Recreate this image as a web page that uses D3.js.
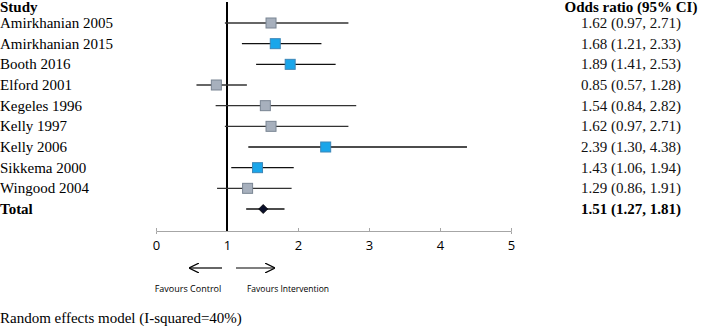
<!DOCTYPE html>
<html lang="en">
<head>
<meta charset="UTF-8">
<title>Forest plot</title>
<script src="https://d3js.org/d3.v7.min.js"></script>
<style>
  * { margin: 0; padding: 0; box-sizing: border-box; }
  body { background: #fff; }
  svg { display: block; }
  .serif { font-family: "Liberation Serif", "Times New Roman", serif; }
  .sans { font-family: "Open Sans", "Liberation Sans", sans-serif; }
</style>
</head>
<body>
<div id="chart"></div>
<script>
  // study data
  const studies = ["Amirkhanian 2005", "Amirkhanian 2015", "Booth 2016", "Elford 2001", "Kegeles 1996",
                   "Kelly 1997", "Kelly 2006", "Sikkema 2000", "Wingood 2004"];
  const oddsRatio = [1.62, 1.68, 1.89, 0.85, 1.54, 1.62, 2.39, 1.43, 1.29];
  const lower = [0.97, 1.21, 1.41, 0.57, 0.84, 0.97, 1.30, 1.06, 0.86];
  const upper = [2.71, 2.33, 2.53, 1.28, 2.82, 2.71, 4.38, 1.94, 1.91];
  const total = { label: "Total", or: 1.51, lo: 1.27, hi: 1.81 };
  const xTicks = [0, 1, 2, 3, 4, 5];

  const W = 706, H = 326;
  const svg = d3.select("#chart").append("svg")
      .attr("width", W).attr("height", H);

  const x = d3.scaleLinear().domain([0, 5]).range([156, 511]);
  const rows = studies.concat([total.label]);
  const y = d3.scalePoint().domain(rows).range([23, 209]);

  const data = studies.map((s, i) => ({
    label: s, or: oddsRatio[i], lo: lower[i], hi: upper[i], sig: lower[i] > 1
  }));
  const fmt = d3.format(".2f");
  const ciText = d => `${fmt(d.or)} (${fmt(d.lo)}, ${fmt(d.hi)})`;

  // headers
  svg.append("text").attr("class", "serif")
      .attr("x", 0).attr("y", 12)
      .style("font-size", "15px").style("font-weight", "bold")
      .text("Study");
  svg.append("text").attr("class", "serif")
      .attr("x", 631).attr("y", 12)
      .attr("text-anchor", "middle")
      .style("font-size", "15px").style("font-weight", "bold")
      .text("Odds ratio (95% CI)");

  // axis
  const axis = svg.append("g")
      .attr("transform", "translate(0,231)")
      .call(d3.axisBottom(x).tickValues(xTicks).tickSize(3).tickFormat(d3.format("d")));
  axis.selectAll("path, line").attr("stroke", "#a6a6a6");
  axis.selectAll("line").attr("y1", -3).attr("y2", 0);
  axis.selectAll("text")
      .attr("class", "sans")
      .attr("y", 10)
      .style("font-size", "13px")
      .attr("fill", "#000");

  // line of no effect
  svg.append("line")
      .attr("x1", x(1)).attr("x2", x(1))
      .attr("y1", 2).attr("y2", 231)
      .attr("stroke", "#000").attr("stroke-width", 2);

  // study rows
  const row = svg.selectAll(".row").data(data).join("g").attr("class", "row");

  row.append("text").attr("class", "serif")
      .attr("x", 0).attr("y", d => y(d.label) + 5)
      .style("font-size", "15px")
      .text(d => d.label);

  row.append("line")
      .attr("x1", d => x(d.lo)).attr("x2", d => x(d.hi))
      .attr("y1", d => y(d.label)).attr("y2", d => y(d.label))
      .attr("stroke", d => d.sig ? "#111" : "#333")
      .attr("stroke-width", 1.3);

  const sq = 10;
  row.append("rect")
      .attr("x", d => x(d.or) - sq / 2).attr("y", d => y(d.label) - sq / 2)
      .attr("width", sq).attr("height", sq)
      .attr("fill", d => d.sig ? "#1aa6ea" : "#a7b0bd")
      .attr("stroke", d => d.sig ? "#3d87b8" : "#7a8593")
      .attr("stroke-width", 1);

  row.append("text").attr("class", "serif")
      .attr("x", 631).attr("y", d => y(d.label) + 5)
      .attr("text-anchor", "middle")
      .style("font-size", "15px")
      .attr("fill", "#111")
      .text(ciText);

  // total row
  const ty = y(total.label);
  svg.append("text").attr("class", "serif")
      .attr("x", 0).attr("y", ty + 5)
      .style("font-size", "15px").style("font-weight", "bold")
      .text(total.label);
  svg.append("line")
      .attr("x1", x(total.lo)).attr("x2", x(total.hi))
      .attr("y1", ty).attr("y2", ty)
      .attr("stroke", "#111").attr("stroke-width", 1.3);
  const dm = 4.5;
  svg.append("path")
      .attr("d", `M${x(total.or) - dm},${ty} L${x(total.or)},${ty - dm} L${x(total.or) + dm},${ty} L${x(total.or)},${ty + dm} Z`)
      .attr("fill", "#0a0f2a").attr("stroke", "#000").attr("stroke-width", 0.8);
  svg.append("text").attr("class", "serif")
      .attr("x", 631).attr("y", ty + 5)
      .attr("text-anchor", "middle")
      .style("font-size", "15px").style("font-weight", "bold")
      .text(ciText(total));

  // favours arrows
  const defs = svg.append("defs");
  defs.append("marker")
      .attr("id", "arrow")
      .attr("viewBox", "0 0 10 10").attr("refX", 9).attr("refY", 5)
      .attr("markerWidth", 10).attr("markerHeight", 10)
      .attr("markerUnits", "userSpaceOnUse")
      .attr("orient", "auto")
      .append("path").attr("d", "M0,0 L10,5 L0,10")
      .attr("fill", "none").attr("stroke", "#000").attr("stroke-width", 1.2);

  svg.append("line")
      .attr("x1", 222).attr("x2", 190).attr("y1", 268).attr("y2", 268)
      .attr("stroke", "#000").attr("stroke-width", 1.2)
      .attr("marker-end", "url(#arrow)");
  svg.append("line")
      .attr("x1", 236).attr("x2", 274).attr("y1", 268).attr("y2", 268)
      .attr("stroke", "#000").attr("stroke-width", 1.2)
      .attr("marker-end", "url(#arrow)");

  svg.append("text").attr("class", "sans")
      .attr("x", 188).attr("y", 292).attr("text-anchor", "middle")
      .style("font-size", "9px").text("Favours Control");
  svg.append("text").attr("class", "sans")
      .attr("x", 288).attr("y", 292).attr("text-anchor", "middle")
      .style("font-size", "8.5px").text("Favours Intervention");

  // footnote
  svg.append("text").attr("class", "serif")
      .attr("x", 0).attr("y", 323)
      .style("font-size", "15px")
      .text("Random effects model (I-squared=40%)");
</script>
</body>
</html>
